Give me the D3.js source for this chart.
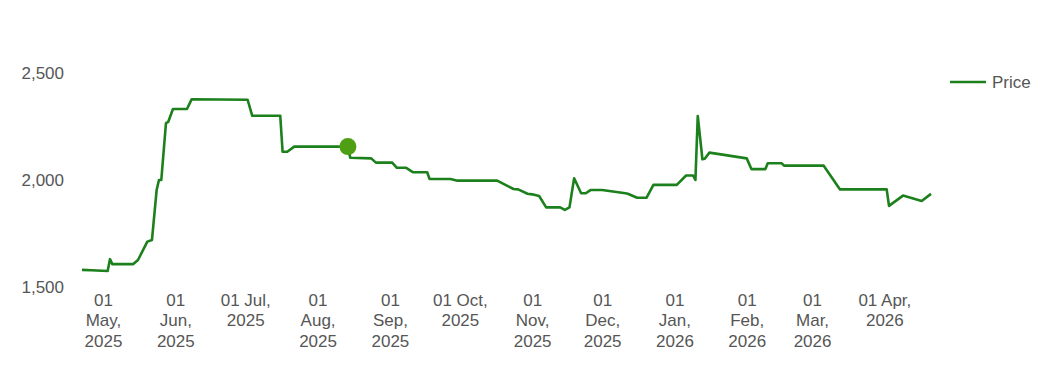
<!DOCTYPE html>
<html>
<head>
<meta charset="utf-8">
<script src="https://cdn.jsdelivr.net/npm/d3@7"></script>
<style>
  body { margin: 0; background: #fff; }
  .chart text { font-family: "Liberation Sans", Arial, sans-serif; fill: #565656; }
</style>
</head>
<body>
<div class="chart"></div>
<script>
// data
const dates = [
  '2025-04-22', '2025-04-26', '2025-05-03', '2025-05-04', '2025-05-05', '2025-05-14',
  '2025-05-16', '2025-05-20', '2025-05-22', '2025-05-24', '2025-05-25', '2025-05-26',
  '2025-05-28', '2025-05-29', '2025-05-31', '2025-06-06', '2025-06-08', '2025-07-02',
  '2025-07-04', '2025-07-16', '2025-07-17', '2025-07-19', '2025-07-22', '2025-08-14',
  '2025-08-15', '2025-08-24', '2025-08-26', '2025-09-02', '2025-09-04', '2025-09-08',
  '2025-09-11', '2025-09-17', '2025-09-18', '2025-09-27', '2025-09-30', '2025-10-17',
  '2025-10-22', '2025-10-24', '2025-10-26', '2025-10-30', '2025-11-01', '2025-11-04',
  '2025-11-07', '2025-11-13', '2025-11-15', '2025-11-17', '2025-11-19', '2025-11-22',
  '2025-11-24', '2025-11-26', '2025-12-01', '2025-12-11', '2025-12-12', '2025-12-16',
  '2025-12-20', '2025-12-23', '2026-01-02', '2026-01-06', '2026-01-09', '2026-01-10',
  '2026-01-11', '2026-01-13', '2026-01-14', '2026-01-16', '2026-02-01', '2026-02-03',
  '2026-02-09', '2026-02-10', '2026-02-16', '2026-02-17', '2026-03-06', '2026-03-13',
  '2026-04-02', '2026-04-03', '2026-04-09', '2026-04-17', '2026-04-21'
];
const prices = [
  1580, 1578, 1575, 1630, 1607, 1607,
  1626, 1712, 1720, 1953, 2000, 2000,
  2266, 2272, 2332, 2332, 2377, 2375,
  2300, 2300, 2132, 2132, 2156, 2156,
  2104, 2101, 2081, 2081, 2057, 2057,
  2036, 2036, 2005, 2005, 1997, 1997,
  1969, 1958, 1956, 1936, 1933, 1925,
  1872, 1872, 1860, 1872, 2008, 1938,
  1938, 1953, 1953, 1938, 1936, 1917,
  1917, 1977, 1977, 2021, 2021, 2000,
  2299, 2097, 2099, 2128, 2101, 2051,
  2051, 2078, 2078, 2067, 2067, 1956,
  1956, 1879, 1927, 1902, 1935
];
const yTicks = [1500, 2000, 2500];
const xTicks = [
  '2025-05-01', '2025-06-01', '2025-07-01', '2025-08-01', '2025-09-01', '2025-10-01',
  '2025-11-01', '2025-12-01', '2026-01-01', '2026-02-01', '2026-03-01', '2026-04-01'
];
const markerDate = '2025-08-14';
const seriesName = 'Price';

const W = 1053, H = 390;
const parse = d3.timeParse('%Y-%m-%d');
const fmtTick = d3.timeFormat('%d %b, %Y');

const points = dates.map((d, i) => ({ date: parse(d), value: prices[i] }));

const svg = d3.select('.chart').append('svg')
  .attr('width', W)
  .attr('height', H);

const x = d3.scaleTime()
  .domain([parse('2025-04-22'), parse('2026-04-21')])
  .range([82, 931]);

const y = d3.scaleLinear()
  .domain([1500, 2500])
  .range([287, 73]);

// y axis labels
svg.append('g')
  .attr('transform', 'translate(64, 0)')
  .call(d3.axisLeft(y).tickValues(yTicks).tickFormat(d3.format(',')).tickSize(0).tickPadding(0))
  .call(g => g.select('.domain').remove())
  .selectAll('text')
  .attr('font-size', 17)
  .attr('dy', '0.35em');

// wrap tick labels into a narrow column
const wrap = (sel, width) => {
  sel.each(function () {
    const text = d3.select(this);
    const words = text.text().split(' ');
    text.text(null);
    let line = [];
    let tspan = text.append('tspan').attr('x', 0).attr('dy', 0);
    words.forEach(w => {
      line.push(w);
      tspan.text(line.join(' '));
      if (tspan.node().getComputedTextLength() > width && line.length > 1) {
        line.pop();
        tspan.text(line.join(' '));
        line = [w];
        tspan = text.append('tspan').attr('x', 0).attr('dy', '1.2em').text(w);
      }
    });
  });
};

svg.append('g')
  .attr('transform', 'translate(0, 306)')
  .call(d3.axisBottom(x).tickValues(xTicks.map(parse)).tickFormat(fmtTick).tickSize(0).tickPadding(0))
  .call(g => g.select('.domain').remove())
  .selectAll('text')
  .attr('font-size', 17)
  .attr('dy', 0)
  .call(wrap, 55.3);

// line
const line = d3.line()
  .x(d => x(d.date))
  .y(d => y(d.value));

svg.append('path')
  .datum(points)
  .attr('fill', 'none')
  .attr('stroke', '#1c801c')
  .attr('stroke-width', 2.6)
  .attr('stroke-linejoin', 'round')
  .attr('d', line);

// highlighted point
const mk = points.find(p => +p.date === +parse(markerDate));
svg.append('circle')
  .attr('cx', x(mk.date))
  .attr('cy', y(mk.value))
  .attr('r', 8.5)
  .attr('fill', '#4f9f14');

// legend
const lg = svg.append('g').attr('transform', 'translate(950, 82)');
lg.append('line')
  .attr('x1', 0).attr('x2', 36)
  .attr('stroke', '#1c801c')
  .attr('stroke-width', 2.6);
lg.append('text')
  .attr('x', 42)
  .attr('dy', '0.35em')
  .attr('font-size', 17)
  .text(seriesName);
</script>
</body>
</html>
